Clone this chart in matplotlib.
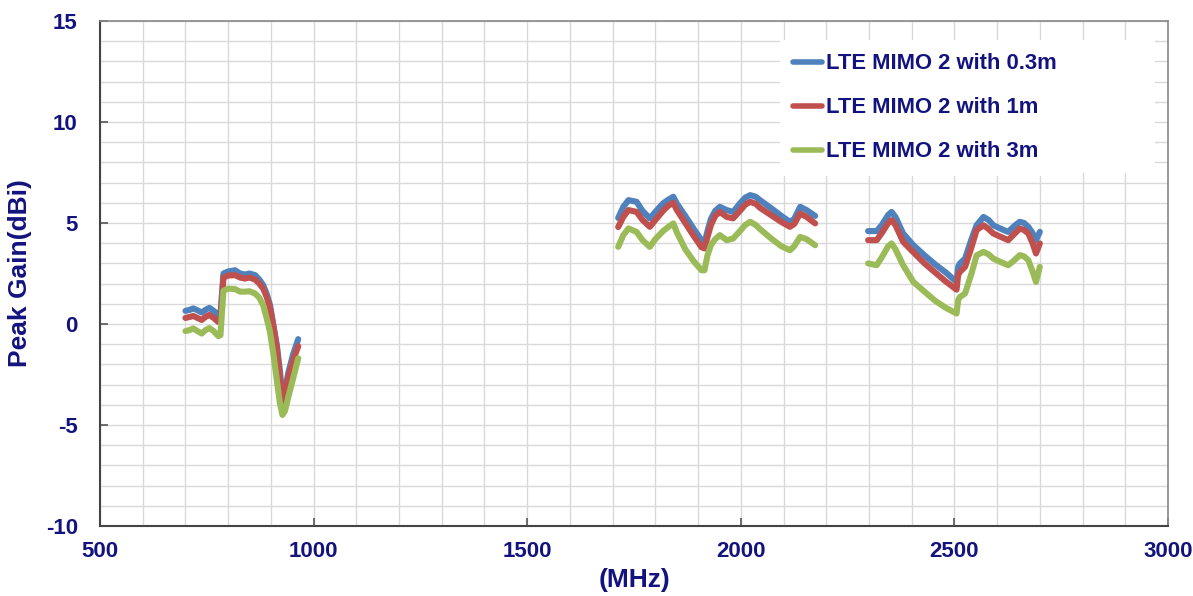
import matplotlib
matplotlib.use("Agg")
import matplotlib.pyplot as plt
from matplotlib.patches import Rectangle
import numpy as np

plt.rcParams['font.family'] = ['Liberation Sans', 'DejaVu Sans']
plt.rcParams['axes.unicode_minus'] = False

labels = ['LTE MIMO 2 with 0.3m', 'LTE MIMO 2 with 1m', 'LTE MIMO 2 with 3m']
colors = ['#4F81BD', '#C0504D', '#9BBB59']

# band 1 (700-965 MHz)
f1 = [700, 710, 718, 728, 738, 747, 756, 766, 777, 782, 789, 800, 816, 828, 839,
      850, 863, 873, 882, 890, 898, 906, 914, 921, 927, 933, 941, 952, 964]
blue1 = [0.65, 0.7, 0.77, 0.68, 0.57, 0.7, 0.8, 0.65, 0.45, 0.5, 2.5, 2.6, 2.66, 2.5, 2.45,
         2.5, 2.42, 2.2, 1.92, 1.5, 0.93, -0.1, -1.05, -2.3, -3.6, -3.3, -2.4, -1.5, -0.75]
red1 = [0.3, 0.35, 0.4, 0.3, 0.2, 0.35, 0.45, 0.3, 0.1, 0.15, 2.3, 2.4, 2.42, 2.3, 2.25,
        2.3, 2.2, 2.0, 1.75, 1.35, 0.8, -0.1, -1.2, -2.6, -3.85, -3.5, -2.6, -1.8, -1.1]
green1 = [-0.35, -0.3, -0.22, -0.35, -0.47, -0.3, -0.2, -0.35, -0.6, -0.55, 1.65, 1.75, 1.73, 1.6, 1.6,
          1.62, 1.51, 1.3, 0.93, 0.3, -0.4, -1.5, -2.8, -3.9, -4.5, -4.3, -3.6, -2.7, -1.7]

# band 2 (1710-2180 MHz)
f2 = [1713, 1725, 1737, 1756, 1770, 1787, 1800, 1818, 1830, 1842, 1850, 1870, 1890, 1908,
      1915, 1922, 1930, 1940, 1951, 1967, 1982, 1998, 2010, 2022, 2035, 2045, 2070, 2095,
      2115, 2125, 2139, 2154, 2174]
blue2 = [5.25, 5.8, 6.13, 6.05, 5.6, 5.23, 5.55, 5.97, 6.15, 6.3, 5.97, 5.35, 4.7, 4.15,
         4.0, 4.6, 5.2, 5.6, 5.8, 5.64, 5.55, 5.97, 6.25, 6.38, 6.3, 6.13, 5.75, 5.35,
         5.06, 5.2, 5.8, 5.64, 5.35]
red2 = [4.8, 5.3, 5.64, 5.55, 5.15, 4.81, 5.15, 5.6, 5.85, 6.0, 5.65, 5.0, 4.35, 3.8,
        3.74, 4.3, 4.9, 5.35, 5.55, 5.3, 5.23, 5.6, 5.9, 6.05, 5.95, 5.75, 5.4, 5.05,
        4.81, 4.95, 5.47, 5.3, 4.98]
green2 = [3.82, 4.4, 4.73, 4.56, 4.15, 3.82, 4.2, 4.6, 4.8, 4.98, 4.55, 3.7, 3.1, 2.66,
          2.66, 3.4, 3.9, 4.2, 4.4, 4.15, 4.23, 4.6, 4.9, 5.06, 4.9, 4.7, 4.25, 3.85,
          3.65, 3.85, 4.31, 4.2, 3.9]

# band 3 (2300-2700 MHz)
f3 = [2298, 2318, 2330, 2345, 2353, 2362, 2380, 2404, 2430, 2455, 2480, 2505, 2509, 2513,
      2525, 2540, 2552, 2568, 2580, 2591, 2610, 2626, 2640, 2653, 2663, 2673, 2683, 2691, 2700]
blue3 = [4.6, 4.6, 4.9, 5.4, 5.55, 5.3, 4.48, 3.9, 3.4, 2.95, 2.55, 2.08, 2.85, 3.0,
         3.24, 4.2, 4.89, 5.3, 5.15, 4.89, 4.7, 4.56, 4.85, 5.06, 5.0, 4.81, 4.5, 4.15, 4.56]
red3 = [4.15, 4.15, 4.5, 5.0, 5.14, 4.9, 4.07, 3.55, 3.0, 2.55, 2.1, 1.7, 2.45, 2.58,
        2.83, 3.8, 4.65, 4.89, 4.7, 4.48, 4.3, 4.15, 4.45, 4.73, 4.65, 4.48, 4.0, 3.49, 3.99]
green3 = [3.0, 2.91, 3.3, 3.85, 3.99, 3.7, 2.91, 2.08, 1.6, 1.15, 0.8, 0.52, 1.2, 1.34,
          1.51, 2.5, 3.4, 3.57, 3.45, 3.24, 3.05, 2.91, 3.15, 3.41, 3.35, 3.16, 2.6, 2.08, 2.83]

series = [(blue1, blue2, blue3), (red1, red2, red3), (green1, green2, green3)]

navy = '#13137f'

fig = plt.figure(figsize=(11.93, 5.96), dpi=100)
ax = fig.add_axes([100 / 1193, 1 - 526 / 596, 1068 / 1193, 505 / 596])

for (s1, s2, s3), c, lab in zip(series, colors, labels):
    x = f1 + [np.nan] + f2 + [np.nan] + f3
    y = s1 + [np.nan] + s2 + [np.nan] + s3
    ax.plot(x, y, color=c, lw=4.4, label=lab, solid_joinstyle='round',
            solid_capstyle='round', zorder=3)

ax.set_xlim(500, 3000)
ax.set_ylim(-10, 15)
ax.set_xticks(np.arange(500, 3001, 500))
ax.set_yticks(np.arange(-10, 16, 5))
ax.set_xticks(np.arange(500, 3001, 100), minor=True)
ax.set_yticks(np.arange(-10, 16, 1), minor=True)
ax.grid(which='both', color='#d9d9d9', lw=1.0, zorder=0)
ax.set_axisbelow(True)
ax.tick_params(which='minor', length=0)
ax.tick_params(which='major', direction='in', length=6, width=1.2, color='#555555',
               labelsize=16, labelcolor=navy)
ax.tick_params(axis='x', pad=11)
ax.tick_params(axis='y', pad=16)
for lbl in ax.get_xticklabels() + ax.get_yticklabels():
    lbl.set_fontweight('bold')

for side in ['left', 'bottom']:
    ax.spines[side].set_color('#444444')
    ax.spines[side].set_linewidth(1.5)
for side in ['top', 'right']:
    ax.spines[side].set_color('#888888')
    ax.spines[side].set_linewidth(1.2)

ax.set_xlabel('(MHz)', fontsize=19, fontweight='bold', color=navy, labelpad=4)
ax.set_ylabel('Peak Gain(dBi)', fontsize=19, fontweight='bold', color=navy, labelpad=10)

# white legend area (wider than the legend text itself)
ax.add_patch(Rectangle((0.637, 0.70), 0.351, 0.262, transform=ax.transAxes,
                       facecolor='white', edgecolor='none', zorder=1.5))

leg = ax.legend(loc='upper left', bbox_to_anchor=(0.637, 0.962), frameon=True,
                facecolor='white', edgecolor='none', framealpha=1.0, fancybox=False,
                handlelength=1.3, handletextpad=0.2, labelspacing=1.05,
                borderpad=0.6, borderaxespad=0,
                prop={'size': 15.8, 'weight': 'bold'})
for t in leg.get_texts():
    t.set_color(navy)
for h in leg.get_lines():
    h.set_linewidth(4)
leg.set_zorder(5)

fig.savefig('out.png', dpi=100)
